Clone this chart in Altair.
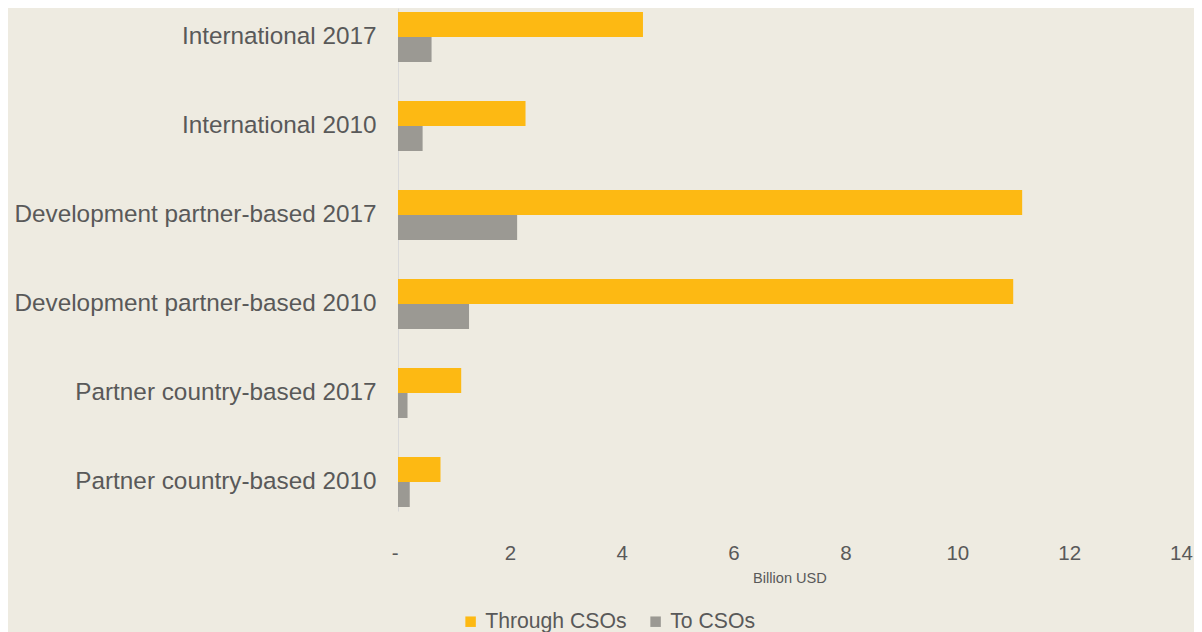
import altair as alt
import pandas as pd

categories = [
    "International 2017",
    "International 2010",
    "Development partner-based 2017",
    "Development partner-based 2010",
    "Partner country-based 2017",
    "Partner country-based 2010",
]
through_csos = [4.38, 2.28, 11.16, 11.0, 1.13, 0.76]
to_csos = [0.60, 0.44, 2.13, 1.27, 0.17, 0.21]
series = ["Through CSOs", "To CSOs"]
colors = ["#FDB913", "#9B9993"]
x_ticks = [0, 2, 4, 6, 8, 10, 12, 14]

rows = []
for c, t, o in zip(categories, through_csos, to_csos):
    rows.append({"cat": c, "series": series[0], "value": t})
    rows.append({"cat": c, "series": series[1], "value": o})
df = pd.DataFrame(rows)

FONT = "Liberation Sans"
GREY = "#595959"

chart = alt.Chart(df).mark_bar().encode(
    y=alt.Y(
        "cat:N",
        sort=categories,
        title=None,
        scale=alt.Scale(paddingInner=0.438, paddingOuter=0.045),
        axis=alt.Axis(
            labelFont=FONT, labelFontSize=24.3, labelColor=GREY,
            ticks=False, labelPadding=22, domain=True,
            domainColor="#D9D9D9", domainWidth=1, labelLimit=600,
        ),
    ),
    yOffset=alt.YOffset("series:N", sort=series),
    x=alt.X(
        "value:Q",
        title="Billion USD",
        scale=alt.Scale(domain=[0, 14], nice=False),
        axis=alt.Axis(
            values=x_ticks, grid=False, domain=False, ticks=False,
            labelExpr="datum.value == 0 ? '-' : datum.label",
            labelAlign={"condition": {"test": "datum.value == 0", "value": "right"}, "value": "center"},
            labelFont=FONT, labelFontSize=20.5, labelColor=GREY, labelPadding=32,
            titleFont=FONT, titleFontSize=14.6, titleColor=GREY, titleFontWeight="normal",
            titlePadding=7,
        ),
    ),
    color=alt.Color(
        "series:N",
        sort=series,
        scale=alt.Scale(domain=series, range=colors),
        legend=alt.Legend(
            title=None, orient="none", direction="horizontal",
            legendX=62, legendY=603,
            symbolType="square", symbolSize=110, symbolStrokeWidth=0,
            labelFont=FONT, labelFontSize=21.2, labelColor=GREY,
            columnPadding=18, labelOffset=4,
        ),
    ),
).properties(
    width=783,
    height=503,
    background="#EEEBE1",
    padding={"left": 390, "top": 0, "right": 13, "bottom": 121},
    autosize=alt.AutoSizeParams(type="none"),
).configure_view(stroke=None)

chart.save("out.html", embed_options={"renderer": "svg", "actions": False})
